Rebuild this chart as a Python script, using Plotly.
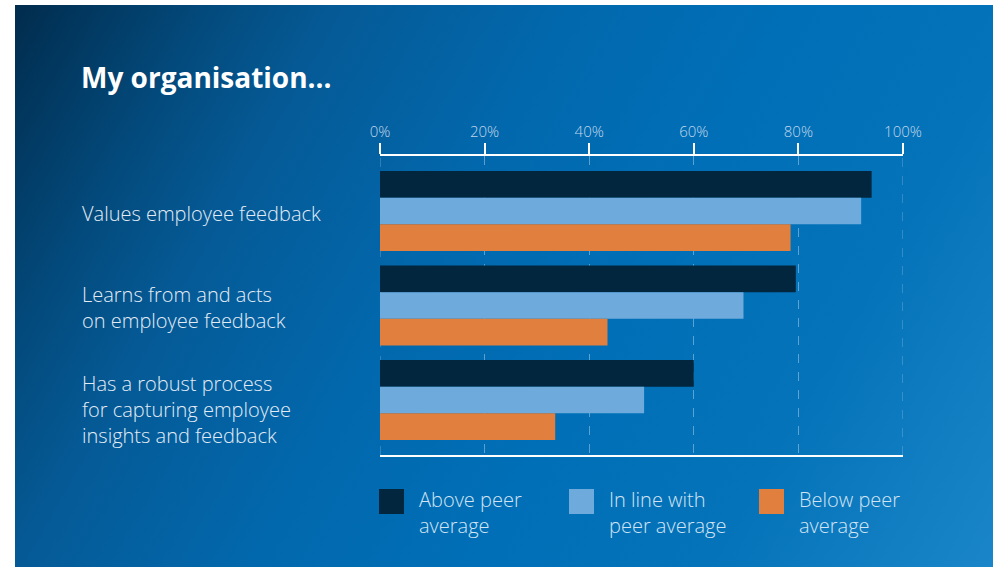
import base64
import plotly.graph_objects as go

# ---- data ----
categories = [
    "Values employee feedback",
    "Learns from and acts<br>on employee feedback",
    "Has a robust process<br>for capturing employee<br>insights and feedback",
]
series_names = ["Above peer average", "In line with peer average", "Below peer average"]
legend_labels = ["Above peer<br>average", "In line with<br>peer average", "Below peer<br>average"]
above_peer = [94, 79.5, 60]
in_line = [92, 69.5, 50.5]
below_peer = [78.5, 43.5, 33.5]
tick_values = [0, 20, 40, 60, 80, 100]
tick_labels = ["0%", "20%", "40%", "60%", "80%", "100%"]
title_text = "My organisation..."

colors = ["#01263e", "#6eabdc", "#e07f3e"]

W, H = 993, 567
def px(x):
    return x / W
def py(y):
    return 1 - y / H

FONT = "Open Sans"
GRID = "rgba(200,225,245,0.45)"

fig = go.Figure()
for name, vals, col in zip(series_names, [above_peer, in_line, below_peer], colors):
    fig.add_trace(go.Bar(
        y=list(range(len(categories))), x=vals, name=name, orientation="h",
        marker=dict(color=col, line=dict(width=0)), showlegend=False,
    ))

# gradient background as svg image
svg = ('<svg xmlns="http://www.w3.org/2000/svg" width="978" height="562" preserveAspectRatio="none" viewBox="0 0 978 562">'
       '<defs><linearGradient id="g" gradientUnits="userSpaceOnUse" x1="0" y1="0" x2="978" y2="562">'
       '<stop offset="0" stop-color="#012c4d"/>'
       '<stop offset="0.15" stop-color="#034a7c"/>'
       '<stop offset="0.25" stop-color="#055a96"/>'
       '<stop offset="0.43" stop-color="#0268ad"/>'
       '<stop offset="0.6" stop-color="#006fb7"/>'
       '<stop offset="0.78" stop-color="#0573b9"/>'
       '<stop offset="1" stop-color="#1a86c9"/>'
       '</linearGradient></defs><rect width="978" height="562" fill="url(#g)"/></svg>')
src = "data:image/svg+xml;base64," + base64.b64encode(svg.encode()).decode()

images = [dict(source=src, xref="paper", yref="paper", x=px(15), y=py(5),
               sizex=px(993) - px(15), sizey=py(5) - py(567), sizing="stretch",
               xanchor="left", yanchor="top", layer="below")]

annotations = []
annotations.append(dict(text="<b>" + title_text + "</b>", xref="paper", yref="paper",
                        x=px(79), y=py(77), xanchor="left", yanchor="middle", showarrow=False,
                        font=dict(family=FONT, size=28, color="white")))
for i, c in enumerate(categories):
    n_lines = c.count("<br>") + 1
    annotations.append(dict(text=c, xref="paper", yref="y", x=px(80), y=i, xanchor="left",
                            yanchor="middle", align="left", showarrow=False,
                            yshift=-2 if n_lines < 3 else -9,
                            font=dict(family=FONT, size=20, color="#e3ecf5", weight=300)))

shapes = []
# dashed lines at the ends of the scale
for xv in (tick_values[0], tick_values[-1]):
    shapes.append(dict(type="line", xref="x", yref="paper", x0=xv, x1=xv, y0=py(455), y1=py(156),
                       line=dict(color=GRID, width=1, dash="dash"), layer="below"))
leg_x = [379, 569, 759]
for lx, col, lab in zip(leg_x, colors, legend_labels):
    shapes.append(dict(type="rect", xref="paper", yref="paper", x0=px(lx), x1=px(lx + 25),
                       y0=py(514), y1=py(489), fillcolor=col, line=dict(width=0)))
    annotations.append(dict(text=lab, xref="paper", yref="paper", x=px(lx + 38), y=py(512),
                            xanchor="left", yanchor="middle", align="left", showarrow=False,
                            font=dict(family=FONT, size=20, color="#d3e4f3", weight=300)))

fig.update_layout(
    width=W, height=H,
    margin=dict(l=0, r=0, t=0, b=0, autoexpand=False),
    paper_bgcolor="white", plot_bgcolor="rgba(0,0,0,0)",
    barmode="group", bargap=0.153, bargroupgap=0,
    images=images, annotations=annotations, shapes=shapes,
    xaxis=dict(domain=[px(380), px(903)], range=[0, 100], side="top", automargin=False,
               tickvals=tick_values, ticktext=tick_labels,
               ticks="outside", ticklen=11, tickwidth=2, tickcolor="white",
               showline=True, linecolor="white", linewidth=2, mirror=True,
               showgrid=True, gridcolor=GRID, gridwidth=1, griddash="dash",
               zeroline=False,
               tickfont=dict(family=FONT, size=15, color="#c0d6eb", weight=300), fixedrange=True),
    yaxis=dict(domain=[py(455), py(156)], range=[2.582, -0.582], automargin=False,
               showticklabels=False, showgrid=False, zeroline=False, showline=False,
               ticks="", fixedrange=True),
    showlegend=False,
)

fig.write_html("out.html", config={"displayModeBar": False},
               post_script="document.body.style.margin='0';document.body.style.overflow='hidden';")
